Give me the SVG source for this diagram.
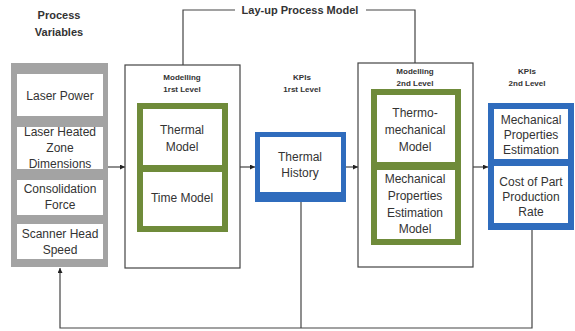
<svg xmlns="http://www.w3.org/2000/svg" width="575" height="331" viewBox="0 0 575 331">
  <defs>
    <marker id="arrow" viewBox="0 0 6 6" refX="6" refY="3" markerWidth="5" markerHeight="5" orient="auto" markerUnits="userSpaceOnUse">
      <path d="M0,0 L6,3 L0,6 Z" fill="#222"/>
    </marker>
    <style>
      text { font-family: "Liberation Sans", Arial, sans-serif; fill: #333; text-anchor: middle; }
      .title { font-size: 11px; font-weight: bold; }
      .small { font-size: 8px; font-weight: bold; }
      .label { font-size: 12px; }
      .outer { fill: #fff; stroke: #444; stroke-width: 1.2; }
      .gray { fill: #a3a3a3; }
      .green { fill: #6f8b3a; }
      .blue { fill: #2f6cbd; }
      .inner { fill: #fff; }
      .wire { fill: none; stroke: #444; stroke-width: 1.2; }
    </style>
  </defs>
  <rect width="575" height="331" fill="#fff"/>

  <!-- connectors -->
  <g id="connectors">
    <polyline class="wire" points="183,65 183,10 235,10"/>
    <polyline class="wire" points="366,10 415,10 415,63"/>
    <line class="wire" x1="108" y1="167" x2="125" y2="167" marker-end="url(#arrow)"/>
    <line class="wire" x1="240" y1="167" x2="255" y2="167" marker-end="url(#arrow)"/>
    <line class="wire" x1="346" y1="167" x2="358" y2="167" marker-end="url(#arrow)"/>
    <line class="wire" x1="473" y1="167" x2="488" y2="167" marker-end="url(#arrow)"/>
    <polyline class="wire" points="532,230 532,328 60,328 60,268" marker-end="url(#arrow)"/>
    <line class="wire" x1="301" y1="202" x2="301" y2="328"/>
  </g>

  <text class="title" x="300" y="14">Lay-up Process Model</text>

  <!-- process variables -->
  <g id="process-variables">
    <text class="title" x="59" y="19">Process</text>
    <text class="title" x="59" y="36">Variables</text>
    <rect class="gray" x="11" y="63" width="97" height="204"/>
    <rect class="inner" x="17" y="74" width="86" height="42"/>
    <rect class="inner" x="17" y="127" width="86" height="42"/>
    <rect class="inner" x="17" y="180" width="86" height="35"/>
    <rect class="inner" x="17" y="224" width="86" height="35"/>
    <text class="label" x="60" y="100">Laser Power</text>
    <text class="label" x="60" y="136">Laser Heated</text>
    <text class="label" x="60" y="152">Zone</text>
    <text class="label" x="60" y="168">Dimensions</text>
    <text class="label" x="60" y="193">Consolidation</text>
    <text class="label" x="60" y="209">Force</text>
    <text class="label" x="60" y="238">Scanner Head</text>
    <text class="label" x="60" y="254">Speed</text>
  </g>

  <!-- modelling, first level -->
  <g id="modelling-1">
    <rect class="outer" x="125" y="65" width="115" height="203"/>
    <text class="small" x="182" y="80">Modelling</text>
    <text class="small" x="182" y="92">1rst Level</text>
    <rect class="green" x="137" y="103" width="91" height="129"/>
    <rect class="inner" x="143" y="109" width="79" height="56"/>
    <rect class="inner" x="143" y="172" width="79" height="54"/>
    <text class="label" x="182" y="134">Thermal</text>
    <text class="label" x="182" y="151">Model</text>
    <text class="label" x="182" y="202">Time Model</text>
  </g>

  <!-- first level KPIs -->
  <g id="kpis-1">
    <text class="small" x="302" y="80">KPIs</text>
    <text class="small" x="302" y="92">1rst Level</text>
    <rect class="blue" x="255" y="132" width="91" height="70"/>
    <rect class="inner" x="260" y="137" width="81" height="55"/>
    <text class="label" x="300" y="161">Thermal</text>
    <text class="label" x="300" y="177">History</text>
  </g>

  <!-- modelling, second level -->
  <g id="modelling-2">
    <rect class="outer" x="358" y="63" width="115" height="204"/>
    <text class="small" x="415" y="74">Modelling</text>
    <text class="small" x="415" y="86">2nd Level</text>
    <rect class="green" x="371" y="89" width="90" height="156"/>
    <rect class="inner" x="377" y="95" width="78" height="67"/>
    <rect class="inner" x="377" y="170" width="78" height="69"/>
    <text class="label" x="415" y="117">Thermo-</text>
    <text class="label" x="415" y="134">mechanical</text>
    <text class="label" x="415" y="151">Model</text>
    <text class="label" x="415" y="183">Mechanical</text>
    <text class="label" x="415" y="200">Properties</text>
    <text class="label" x="415" y="217">Estimation</text>
    <text class="label" x="415" y="233">Model</text>
  </g>

  <!-- second level KPIs -->
  <g id="kpis-2">
    <text class="small" x="527" y="74">KPIs</text>
    <text class="small" x="527" y="86">2nd Level</text>
    <rect class="blue" x="488" y="103" width="86" height="127"/>
    <rect class="inner" x="494" y="109" width="74" height="50"/>
    <rect class="inner" x="494" y="166" width="74" height="57"/>
    <text class="label" x="531" y="124">Mechanical</text>
    <text class="label" x="531" y="139">Properties</text>
    <text class="label" x="531" y="154">Estimation</text>
    <text class="label" x="531" y="186">Cost of Part</text>
    <text class="label" x="531" y="201">Production</text>
    <text class="label" x="531" y="216">Rate</text>
  </g>
</svg>
